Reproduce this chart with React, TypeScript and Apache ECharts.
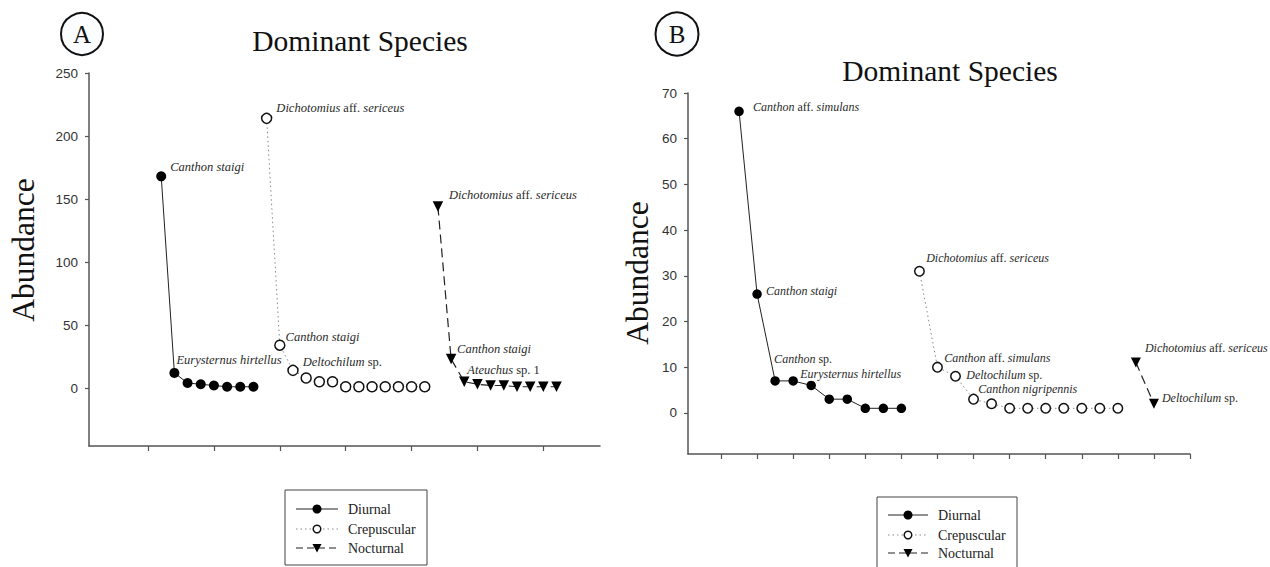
import React, { useEffect, useRef } from "react";
import * as echarts from "echarts";

// ---- data (abundance by rank) ----
const diurnalA = [168, 12, 4, 3, 2, 1, 1, 1];
const crepuscularA = [214, 34, 14, 8, 5, 5, 1, 1, 1, 1, 1, 1, 1];
const nocturnalA = [144, 23, 5, 3, 2, 2, 1, 1, 1, 1];
const diurnalB = [66, 26, 7, 7, 6, 3, 3, 1, 1, 1];
const crepuscularB = [31, 10, 8, 3, 2, 1, 1, 1, 1, 1, 1, 1];
const nocturnalB = [11, 2];

// first rank of each group on the x axis
const startA = { diurnal: 6, crepuscular: 14, nocturnal: 27 };
const startB = { diurnal: 3, crepuscular: 13, nocturnal: 25 };

// species labels for the leading points of each group
const labelsDiurnalA = ["Canthon staigi", "Eurysternus hirtellus"];
const labelsCrepA = ["Dichotomius aff. sericeus", "Canthon staigi", "Deltochilum sp."];
const labelsNoctA = ["Dichotomius aff. sericeus", "Canthon staigi", "Ateuchus sp. 1"];
const labelsDiurnalB = ["Canthon aff. simulans", "Canthon staigi", "Canthon sp.", "Eurysternus hirtellus"];
const labelsCrepB = ["Dichotomius aff. sericeus", "Canthon aff. simulans", "Deltochilum sp.", "Canthon nigripennis"];
const labelsNoctB = ["Dichotomius aff. sericeus", "Deltochilum sp."];

// tick values
const xTicksA = [5, 10, 15, 20, 25, 30, 35];
const yTicksA = [0, 50, 100, 150, 200, 250];
const xTicksB = [2, 4, 6, 8, 10, 12, 14, 16, 18, 20, 22, 24, 26, 28];
const yTicksB = [0, 10, 20, 30, 40, 50, 60, 70];

const legendNames = ["Diurnal", "Crepuscular", "Nocturnal"];

// label offsets (from point centre to text start / text middle)
const offDiurnalA = [[9, -9], [2, -13]];
const offCrepA = [[9, -10], [5, -8], [9, -8]];
const offNoctA = [[11, -12], [6, -10], [3, -12]];
const offDiurnalB = [[14, -4], [9, -3], [-1, -22], [7, -7]];
const offCrepB = [[6, -13], [6, -9], [10, -1], [4, -10]];
const offNoctB = [[9, -15], [8, -6]];

const SERIF = "'Liberation Serif', 'DejaVu Serif', serif";
const SANS = "'Liberation Sans', Arial, sans-serif";

function fmt(name: string) {
  return name
    .split(" ")
    .map((w) => (w === "aff." || w === "sp." || /^\d/.test(w) ? `{n|${w}}` : `{i|${w}}`))
    .join("{n| }");
}

function makeSeries(
  kind: string,
  values: number[],
  start: number,
  labels: string[],
  offsets: number[][],
  axisIndex: number,
  symbolSize: number,
  fontSize: number
) {
  const half = symbolSize / 2;
  const rich = {
    i: { fontStyle: "italic", fontFamily: SERIF, fontSize, color: "#2a2a2a" },
    n: { fontStyle: "normal", fontFamily: SERIF, fontSize, color: "#2a2a2a" },
  };
  const data = values.map((v, i) => {
    const item: any = { value: [start + i, v] };
    if (i < labels.length) {
      item.label = {
        show: true,
        position: "right",
        distance: 0,
        offset: [offsets[i][0] - half, offsets[i][1]],
        formatter: fmt(labels[i]),
        rich,
      };
    }
    return item;
  });
  const base: any = {
    name: kind,
    type: "line",
    xAxisIndex: axisIndex,
    yAxisIndex: axisIndex,
    data,
    symbolSize,
    showSymbol: true,
    showAllSymbol: true,
    clip: false,
    label: { show: false },
    emphasis: { disabled: true },
  };
  if (kind === "Diurnal") {
    base.symbol = "circle";
    base.itemStyle = { color: "#000" };
    base.lineStyle = { color: "#222", width: 1, type: "solid" };
  } else if (kind === "Crepuscular") {
    base.symbol = "circle";
    base.itemStyle = { color: "#fff", borderColor: "#111", borderWidth: 1.5 };
    base.lineStyle = { color: "#8a8a8a", width: 1, type: [1.5, 3] };
  } else {
    base.symbol = "triangle";
    base.symbolRotate = 180;
    base.itemStyle = { color: "#000" };
    base.lineStyle = { color: "#222", width: 1.2, type: [9, 5] };
  }
  return base;
}

function xAxis(gridIndex: number, min: number, max: number, ticks: number[]) {
  return {
    type: "value",
    gridIndex,
    min,
    max,
    axisLine: { onZero: false, lineStyle: { color: "#555", width: 1.5 } },
    axisTick: { show: true, length: 5, customValues: ticks, lineStyle: { color: "#555", width: 1.2 } },
    axisLabel: { show: false },
    splitLine: { show: false },
  };
}

function yAxis(gridIndex: number, min: number, max: number, ticks: number[]) {
  return {
    type: "value",
    gridIndex,
    min,
    max,
    axisLine: { show: true, onZero: false, lineStyle: { color: "#555", width: 1.5 } },
    axisTick: { show: true, length: 4, customValues: ticks, lineStyle: { color: "#555", width: 1.2 } },
    axisLabel: {
      show: true,
      customValues: ticks,
      fontFamily: SANS,
      fontSize: 13.5,
      color: "#333",
      margin: 11,
    },
    splitLine: { show: false },
  };
}

function legendGraphic(x: number, y: number, rows: number[], lineX0: number, lineX1: number, textX: number, h: number) {
  const mx = (lineX0 + lineX1) / 2;
  const els: any[] = [
    {
      type: "rect",
      shape: { x, y, width: textX - x + 79, height: h },
      style: { fill: "#fff", stroke: "#444", lineWidth: 1 },
    },
  ];
  const dashes: any[] = [null, [1.5, 3], [7, 4]];
  const strokes = ["#222", "#8a8a8a", "#222"];
  rows.forEach((ry, k) => {
    els.push({
      type: "line",
      shape: { x1: lineX0, y1: ry, x2: lineX1, y2: ry },
      style: { stroke: strokes[k], lineWidth: 1.2, lineDash: dashes[k] || undefined },
    });
    if (k === 0) {
      els.push({ type: "circle", shape: { cx: mx, cy: ry, r: 4.5 }, style: { fill: "#000" } });
    } else if (k === 1) {
      els.push({ type: "circle", shape: { cx: mx, cy: ry, r: 3.8 }, style: { fill: "#fff", stroke: "#111", lineWidth: 1.5 } });
    } else {
      els.push({
        type: "polygon",
        shape: { points: [[mx - 4.5, ry - 4], [mx + 4.5, ry - 4], [mx, ry + 4.5]] },
        style: { fill: "#000" },
      });
    }
    els.push({
      type: "text",
      x: textX,
      y: ry,
      style: { text: legendNames[k], font: `14px ${SERIF}`, fill: "#222", verticalAlign: "middle", align: "left" },
    });
  });
  return els;
}

export default function App() {
  const ref = useRef<HTMLDivElement>(null);
  useEffect(() => {
    if (!ref.current) return;
    const chart = echarts.init(ref.current, null, { renderer: "svg" });
    const option: any = {
      animation: false,
      backgroundColor: "#fff",
      grid: [
        { left: 89, top: 73, width: 511, height: 373 },
        { left: 688, top: 93, width: 502, height: 361 },
      ],
      xAxis: [xAxis(0, 0.52, 39.3, xTicksA), xAxis(1, 0.17, 28, xTicksB)],
      yAxis: [yAxis(0, -46, 250, yTicksA), yAxis(1, -9, 70, yTicksB)],
      series: [
        makeSeries("Diurnal", diurnalA, startA.diurnal, labelsDiurnalA, offDiurnalA, 0, 10, 12.5),
        makeSeries("Crepuscular", crepuscularA, startA.crepuscular, labelsCrepA, offCrepA, 0, 10, 12.5),
        makeSeries("Nocturnal", nocturnalA, startA.nocturnal, labelsNoctA, offNoctA, 0, 10.5, 12.5),
        makeSeries("Diurnal", diurnalB, startB.diurnal, labelsDiurnalB, offDiurnalB, 1, 9.5, 12),
        makeSeries("Crepuscular", crepuscularB, startB.crepuscular, labelsCrepB, offCrepB, 1, 9.5, 12),
        makeSeries("Nocturnal", nocturnalB, startB.nocturnal, labelsNoctB, offNoctB, 1, 10, 12),
      ],
      graphic: [
        // panel badges
        { type: "circle", shape: { cx: 82, cy: 34, r: 21 }, style: { fill: "#fbfdff", stroke: "#111", lineWidth: 2 } },
        { type: "text", x: 82, y: 34, style: { text: "A", font: `25px ${SERIF}`, fill: "#111", align: "center", verticalAlign: "middle" } },
        { type: "circle", shape: { cx: 677, cy: 34, r: 21.5 }, style: { fill: "#fbfdff", stroke: "#111", lineWidth: 2 } },
        { type: "text", x: 677, y: 34, style: { text: "B", font: `25px ${SERIF}`, fill: "#111", align: "center", verticalAlign: "middle" } },
        // titles
        { type: "text", x: 360, y: 41, style: { text: "Dominant Species", font: `29.5px ${SERIF}`, fill: "#111", align: "center", verticalAlign: "middle" } },
        { type: "text", x: 950, y: 71, style: { text: "Dominant Species", font: `29.5px ${SERIF}`, fill: "#111", align: "center", verticalAlign: "middle" } },
        // y-axis titles
        { type: "text", x: 23, y: 250, rotation: Math.PI / 2, style: { text: "Abundance", font: `31.5px ${SERIF}`, fill: "#111", align: "center", verticalAlign: "middle" } },
        { type: "text", x: 637, y: 273, rotation: Math.PI / 2, style: { text: "Abundance", font: `31.5px ${SERIF}`, fill: "#111", align: "center", verticalAlign: "middle" } },
        // legends
        ...legendGraphic(285, 490, [509, 529, 548], 296, 338, 348, 75),
        ...legendGraphic(877, 497, [515, 535, 553], 888, 928, 938, 76),
      ],
    };
    chart.setOption(option);
    return () => chart.dispose();
  }, []);
  return (
    <div
      ref={ref}
      style={{ position: "fixed", left: 0, top: 0, width: 1270, height: 567, background: "#fff" }}
    />
  );
}
